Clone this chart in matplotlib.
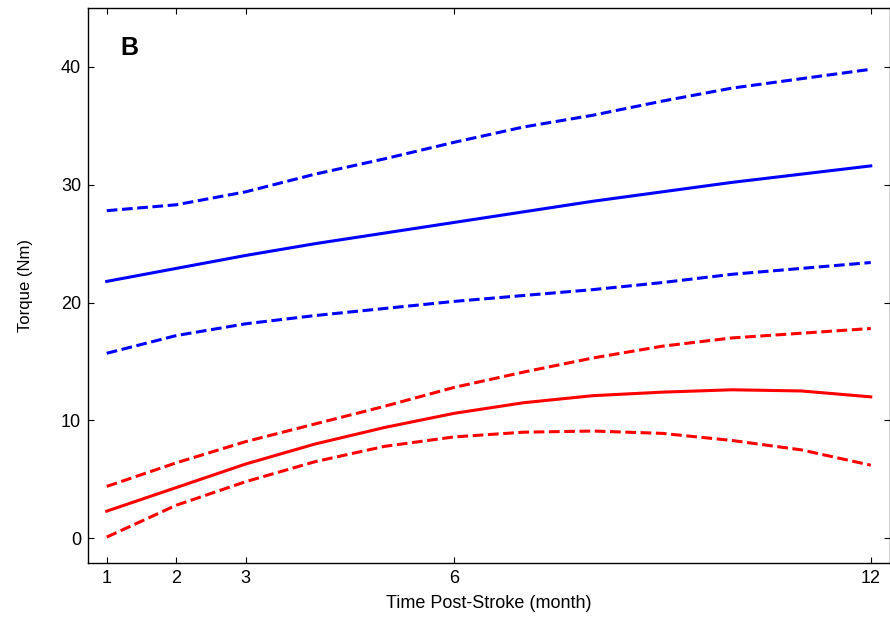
import numpy as np
import matplotlib.pyplot as plt

plt.rcParams['font.family'] = ['Liberation Sans', 'DejaVu Sans']

# months post-stroke
months = [1, 2, 3, 4, 5, 6, 7, 8, 9, 10, 11, 12]

# group 1 (blue): mean torque and confidence bounds
blue_mean = [21.8, 22.9, 24.0, 25.0, 25.9, 26.8, 27.7, 28.6, 29.4, 30.2, 30.9, 31.6]
blue_upper = [27.8, 28.3, 29.4, 30.9, 32.2, 33.6, 34.9, 35.9, 37.1, 38.2, 39.0, 39.8]
blue_lower = [15.7, 17.2, 18.2, 18.9, 19.5, 20.1, 20.6, 21.1, 21.7, 22.4, 22.9, 23.4]

# group 2 (red): mean torque and confidence bounds
red_mean = [2.3, 4.3, 6.3, 8.0, 9.4, 10.6, 11.5, 12.1, 12.4, 12.6, 12.5, 12.0]
red_upper = [4.4, 6.4, 8.2, 9.7, 11.2, 12.8, 14.1, 15.3, 16.3, 17.0, 17.4, 17.8]
red_lower = [0.1, 2.8, 4.8, 6.5, 7.8, 8.6, 9.0, 9.1, 8.9, 8.3, 7.5, 6.2]

xticks = [1, 2, 3, 6, 12]
yticks = [0, 10, 20, 30, 40]

fig = plt.figure(figsize=(8.9, 6.19), dpi=100)
ax = fig.add_axes([88/890, 56/619, 801.5/890, 555/619])

lw = 2.2
dash = (3.5, 1.5)
ax.plot(months, blue_upper, color='#0000ff', lw=lw, dashes=dash)
ax.plot(months, blue_mean, color='#0000ff', lw=lw)
ax.plot(months, blue_lower, color='#0000ff', lw=lw, dashes=dash)
ax.plot(months, red_upper, color='#ff0000', lw=lw, dashes=dash)
ax.plot(months, red_mean, color='#ff0000', lw=lw)
ax.plot(months, red_lower, color='#ff0000', lw=lw, dashes=dash)

ax.set_xlim(0.73, 12.27)
ax.set_ylim(-2.1, 45)
ax.set_xticks(xticks)
ax.set_yticks(yticks)
ax.tick_params(direction='in', top=True, right=True, length=4, width=0.8,
               labelsize=13, pad=5)
for s in ax.spines.values():
    s.set_linewidth(1.0)

ax.set_xlabel('Time Post-Stroke (month)', fontsize=13, labelpad=6)
ax.set_ylabel('Torque (Nm)', fontsize=12, labelpad=20)
ax.text(0.04, 0.928, 'B', transform=ax.transAxes, fontsize=18,
        fontweight='bold', va='center', ha='left')

fig.savefig('out.png', dpi=100)
